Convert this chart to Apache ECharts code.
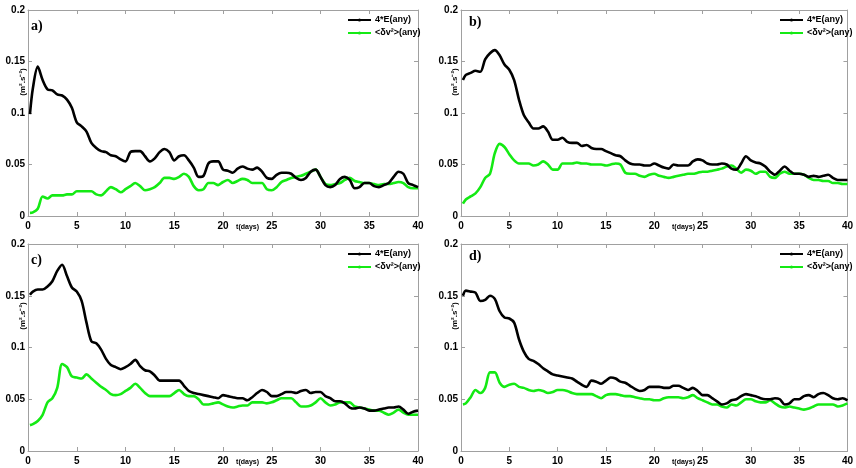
<!DOCTYPE html>
<html>
<head>
<meta charset="utf-8">
<script src="https://cdn.jsdelivr.net/npm/echarts@6/dist/echarts.min.js"></script>
<style>
  html, body { margin: 0; padding: 0; background: #fff; }
  #chart { width: 856px; height: 468px; }
</style>
</head>
<body>
<div id="chart"></div>
<script>
// time in days
var time = [
  0.2, 0.5, 1, 1.5, 2, 2.5, 3, 3.5, 4, 4.5,
  5, 5.5, 6, 6.5, 7, 7.5, 8, 8.5, 9, 9.5,
  10, 10.5, 11, 11.5, 12, 12.5, 13, 13.5, 14, 14.5,
  15, 15.5, 16, 16.5, 17, 17.5, 18, 18.5, 19, 19.5,
  20, 20.5, 21, 21.5, 22, 22.5, 23, 23.5, 24, 24.5,
  25, 25.5, 26, 26.5, 27, 27.5, 28, 28.5, 29, 29.5,
  30, 30.5, 31, 31.5, 32, 32.5, 33, 33.5, 34, 34.5,
  35, 35.5, 36, 36.5, 37, 37.5, 38, 38.5, 39, 39.5,
  40
]
var xTicks = [0, 5, 10, 15, 20, 25, 30, 35, 40]
var yTicks = [0, 0.05, 0.1, 0.15, 0.2]
var seriesNames = ['4*E(any)', '<δv²>(any)']
var panelLabels = ['a)', 'b)', 'c)', 'd)']

// panel a
var aE = [
  0.099, 0.124, 0.145, 0.132, 0.123, 0.122, 0.118, 0.117, 0.113, 0.105,
  0.091, 0.087, 0.082, 0.071, 0.066, 0.063, 0.062, 0.059, 0.058, 0.055,
  0.053, 0.062, 0.063, 0.063, 0.058, 0.053, 0.056, 0.062, 0.065, 0.062,
  0.054, 0.058, 0.059, 0.054, 0.047, 0.038, 0.039, 0.051, 0.053, 0.053,
  0.045, 0.044, 0.042, 0.046, 0.048, 0.046, 0.045, 0.047, 0.043, 0.037,
  0.036, 0.040, 0.042, 0.042, 0.041, 0.037, 0.035, 0.037, 0.043, 0.045,
  0.038, 0.030, 0.028, 0.030, 0.036, 0.038, 0.035, 0.027, 0.028, 0.032,
  0.032, 0.029, 0.028, 0.030, 0.032, 0.038, 0.043, 0.041, 0.032, 0.030,
  0.028
]
var aV = [
  0.003, 0.0035, 0.007, 0.019, 0.017, 0.020, 0.020, 0.020, 0.021, 0.021,
  0.024, 0.024, 0.024, 0.024, 0.021, 0.020, 0.024, 0.028, 0.026, 0.023,
  0.026, 0.029, 0.032, 0.029, 0.025, 0.026, 0.028, 0.032, 0.037, 0.037,
  0.036, 0.038, 0.041, 0.038, 0.029, 0.025, 0.026, 0.032, 0.032, 0.030,
  0.033, 0.035, 0.032, 0.034, 0.036, 0.035, 0.032, 0.032, 0.032, 0.026,
  0.025, 0.028, 0.033, 0.035, 0.037, 0.038, 0.039, 0.041, 0.043, 0.045,
  0.038, 0.031, 0.030, 0.031, 0.032, 0.035, 0.037, 0.034, 0.033, 0.032,
  0.032, 0.031, 0.030, 0.031, 0.031, 0.032, 0.033, 0.032, 0.028, 0.027,
  0.027
]
// panel b
var bE = [
  0.132, 0.137, 0.139, 0.141, 0.140, 0.152, 0.158, 0.161, 0.156, 0.147,
  0.142, 0.132, 0.113, 0.098, 0.091, 0.085, 0.085, 0.087, 0.082, 0.074,
  0.074, 0.076, 0.072, 0.071, 0.071, 0.068, 0.069, 0.066, 0.065, 0.065,
  0.063, 0.061, 0.059, 0.058, 0.054, 0.051, 0.050, 0.050, 0.049, 0.049,
  0.051, 0.049, 0.047, 0.046, 0.050, 0.049, 0.049, 0.049, 0.053, 0.055,
  0.054, 0.051, 0.050, 0.050, 0.051, 0.050, 0.046, 0.045, 0.051, 0.058,
  0.054, 0.052, 0.051, 0.048, 0.043, 0.040, 0.044, 0.048, 0.044, 0.041,
  0.041, 0.040, 0.038, 0.039, 0.038, 0.039, 0.040, 0.037, 0.035, 0.035,
  0.035
]
var bV = [
  0.012, 0.016, 0.019, 0.022, 0.028, 0.037, 0.041, 0.061, 0.070, 0.067,
  0.060, 0.054, 0.051, 0.051, 0.051, 0.049, 0.050, 0.053, 0.050, 0.045,
  0.045, 0.051, 0.051, 0.051, 0.052, 0.051, 0.051, 0.050, 0.050, 0.050,
  0.049, 0.050, 0.051, 0.050, 0.042, 0.041, 0.041, 0.039, 0.038, 0.040,
  0.041, 0.039, 0.038, 0.037, 0.038, 0.039, 0.040, 0.041, 0.041, 0.042,
  0.043, 0.043, 0.044, 0.045, 0.046, 0.048, 0.049, 0.046, 0.042, 0.045,
  0.044, 0.041, 0.043, 0.043, 0.038, 0.037, 0.041, 0.043, 0.041, 0.041,
  0.041, 0.040, 0.037, 0.035, 0.035, 0.034, 0.034, 0.032, 0.032, 0.031,
  0.031
]
// panel c
var cE = [
  0.151, 0.154, 0.156, 0.156, 0.159, 0.164, 0.174, 0.180, 0.169, 0.158,
  0.154, 0.145, 0.124, 0.106, 0.104, 0.098, 0.089, 0.083, 0.081, 0.079,
  0.081, 0.084, 0.088, 0.082, 0.078, 0.077, 0.073, 0.068, 0.068, 0.068,
  0.068, 0.068, 0.063, 0.058, 0.056, 0.055, 0.054, 0.053, 0.052, 0.051,
  0.054, 0.053, 0.052, 0.051, 0.051, 0.049, 0.052, 0.056, 0.059, 0.057,
  0.053, 0.053, 0.055, 0.057, 0.057, 0.056, 0.058, 0.059, 0.056, 0.057,
  0.057, 0.053, 0.051, 0.048, 0.048, 0.046, 0.042, 0.041, 0.042, 0.041,
  0.039, 0.039, 0.040, 0.041, 0.042, 0.042, 0.043, 0.040, 0.036, 0.038,
  0.039
]
var cV = [
  0.025, 0.026, 0.029, 0.035, 0.047, 0.051, 0.061, 0.084, 0.081, 0.072,
  0.071, 0.070, 0.074, 0.070, 0.066, 0.062, 0.059, 0.055, 0.054, 0.055,
  0.058, 0.061, 0.065, 0.061, 0.056, 0.053, 0.053, 0.053, 0.053, 0.053,
  0.056, 0.059, 0.055, 0.053, 0.053, 0.050, 0.045, 0.045, 0.046, 0.047,
  0.045, 0.043, 0.042, 0.043, 0.044, 0.044, 0.047, 0.047, 0.047, 0.046,
  0.047, 0.049, 0.051, 0.051, 0.051, 0.047, 0.043, 0.043, 0.044, 0.047,
  0.051, 0.047, 0.044, 0.045, 0.047, 0.047, 0.047, 0.043, 0.042, 0.041,
  0.040, 0.039, 0.039, 0.037, 0.035, 0.037, 0.040, 0.037, 0.035, 0.035,
  0.035
]
// panel d
var dE = [
  0.150, 0.155, 0.154, 0.153, 0.145, 0.146, 0.150, 0.147, 0.135, 0.129,
  0.128, 0.124, 0.108, 0.096, 0.089, 0.087, 0.084, 0.080, 0.077, 0.074,
  0.073, 0.072, 0.071, 0.070, 0.067, 0.064, 0.062, 0.068, 0.067, 0.065,
  0.068, 0.071, 0.070, 0.067, 0.066, 0.063, 0.060, 0.058, 0.059, 0.062,
  0.062, 0.062, 0.061, 0.061, 0.063, 0.063, 0.061, 0.059, 0.061, 0.058,
  0.054, 0.054, 0.051, 0.048, 0.045, 0.046, 0.049, 0.050, 0.053, 0.055,
  0.054, 0.053, 0.051, 0.050, 0.050, 0.051, 0.050, 0.045, 0.046, 0.050,
  0.050, 0.053, 0.054, 0.052, 0.055, 0.056, 0.054, 0.051, 0.050, 0.051,
  0.049
]
var dV = [
  0.045, 0.046, 0.052, 0.059, 0.056, 0.061, 0.076, 0.076, 0.066, 0.062,
  0.064, 0.065, 0.062, 0.061, 0.059, 0.058, 0.059, 0.058, 0.056, 0.057,
  0.059, 0.059, 0.058, 0.056, 0.055, 0.055, 0.055, 0.055, 0.053, 0.051,
  0.054, 0.055, 0.055, 0.054, 0.053, 0.053, 0.052, 0.051, 0.050, 0.050,
  0.049, 0.049, 0.051, 0.052, 0.052, 0.052, 0.051, 0.052, 0.054, 0.051,
  0.049, 0.047, 0.045, 0.045, 0.043, 0.042, 0.045, 0.044, 0.047, 0.050,
  0.050, 0.048, 0.047, 0.047, 0.049, 0.046, 0.043, 0.042, 0.043, 0.042,
  0.041, 0.040, 0.041, 0.043, 0.045, 0.045, 0.045, 0.045, 0.043, 0.044,
  0.046
]

var panelE = [aE, bE, cE, dE]
var panelV = [aV, bV, cV, dV]

var BLACK = '#000000'
var GREEN = '#14ea14'
var BOX = '#a0a0a0'

var grids = [
  { left: 28, top: 10, width: 390, height: 206 },
  { left: 461, top: 10, width: 389, height: 206 },
  { left: 28, top: 244, width: 390, height: 207 },
  { left: 461, top: 244, width: 389, height: 207 }
]

function pairs (ys) {
  return time.map(function (t, i) { return [t, ys[i]] })
}

var tickLabel = { color: '#000', fontWeight: 'bold', fontSize: 10, fontFamily: 'Liberation Sans, Arial' }

var xAxes = []
var yAxes = []
var series = []
var legends = []
var graphics = []

grids.forEach(function (g, i) {
  // bottom / left axes with labels
  xAxes.push({
    type: 'value', gridIndex: i, min: xTicks[0], max: xTicks[xTicks.length - 1], interval: 5,
    axisLine: { show: true, onZero: false, lineStyle: { color: BOX } },
    axisTick: { show: true, inside: true, length: 4, lineStyle: { color: BOX } },
    axisLabel: Object.assign({ margin: 5 }, tickLabel),
    splitLine: { show: false }
  })
  yAxes.push({
    type: 'value', gridIndex: i, min: yTicks[0], max: yTicks[yTicks.length - 1], interval: 0.05,
    axisLine: { show: true, onZero: false, lineStyle: { color: BOX } },
    axisTick: { show: true, inside: true, length: 4, lineStyle: { color: BOX } },
    axisLabel: Object.assign({ margin: 3 }, tickLabel),
    splitLine: { show: false }
  })
  // top / right box axes (ticks only)
  xAxes.push({
    type: 'value', gridIndex: i, position: 'top', min: 0, max: 40, interval: 5,
    axisLine: { show: true, onZero: false, lineStyle: { color: BOX } },
    axisTick: { show: true, inside: true, length: 4, lineStyle: { color: BOX } },
    axisLabel: { show: false },
    splitLine: { show: false }
  })
  yAxes.push({
    type: 'value', gridIndex: i, position: 'right', min: 0, max: 0.2, interval: 0.05,
    axisLine: { show: true, onZero: false, lineStyle: { color: BOX } },
    axisTick: { show: true, inside: true, length: 4, lineStyle: { color: BOX } },
    axisLabel: { show: false },
    splitLine: { show: false }
  })

  series.push({
    name: seriesNames[0], type: 'line', xAxisIndex: i * 2, yAxisIndex: i * 2,
    data: pairs(panelE[i]), smooth: 0.3, symbol: 'circle', symbolSize: 3, showSymbol: false,
    lineStyle: { color: BLACK, width: 2.6 }, itemStyle: { color: BLACK }, z: 3
  })
  series.push({
    name: seriesNames[1], type: 'line', xAxisIndex: i * 2, yAxisIndex: i * 2,
    data: pairs(panelV[i]), smooth: 0.3, symbol: 'circle', symbolSize: 3, showSymbol: false,
    lineStyle: { color: GREEN, width: 2.6 }, itemStyle: { color: GREEN }, z: 2
  })

  var right = i % 2 === 1
  legends.push({
    data: seriesNames,
    orient: 'vertical',
    left: right ? 779 : 347,
    top: g.top + 4,
    padding: 0,
    itemGap: 1,
    itemWidth: 23,
    itemHeight: 4,
    selectedMode: false,
    textStyle: { color: '#000', fontWeight: 'bold', fontSize: 9, fontFamily: 'Liberation Sans, Arial', lineHeight: 12, padding: [0, 0, 0, -1] }
  })

  // panel letter
  graphics.push({
    type: 'text', left: g.left + (right ? 8 : 3), top: g.top + (right ? 5 : 9),
    style: { text: panelLabels[i], fill: '#000', font: 'bold 14px "Liberation Serif", "Times New Roman"' }
  })
  // x axis name
  graphics.push({
    type: 'text', x: g.left + g.width * (right ? 0.572 : 0.563), y: g.top + g.height + 11,
    style: { text: 't(days)', fill: '#000', font: 'bold 7px "Liberation Sans", Arial', textAlign: 'center', textVerticalAlign: 'middle' }
  })
  // y axis name
  graphics.push({
    type: 'text', x: g.left - (right ? 6 : 5), y: g.top + 72, rotation: Math.PI / 2,
    style: { text: '(m².s⁻²)', fill: '#000', font: 'bold 8px "Liberation Sans", Arial', textAlign: 'center', textVerticalAlign: 'middle' }
  })
})

var myChart = echarts.init(document.getElementById('chart'))
myChart.setOption({
  backgroundColor: '#fff',
  animation: false,
  grid: grids.map(function (g) { return Object.assign({ containLabel: false }, g) }),
  xAxis: xAxes,
  yAxis: yAxes,
  legend: legends,
  series: series,
  graphic: graphics
})
</script>
</body>
</html>
